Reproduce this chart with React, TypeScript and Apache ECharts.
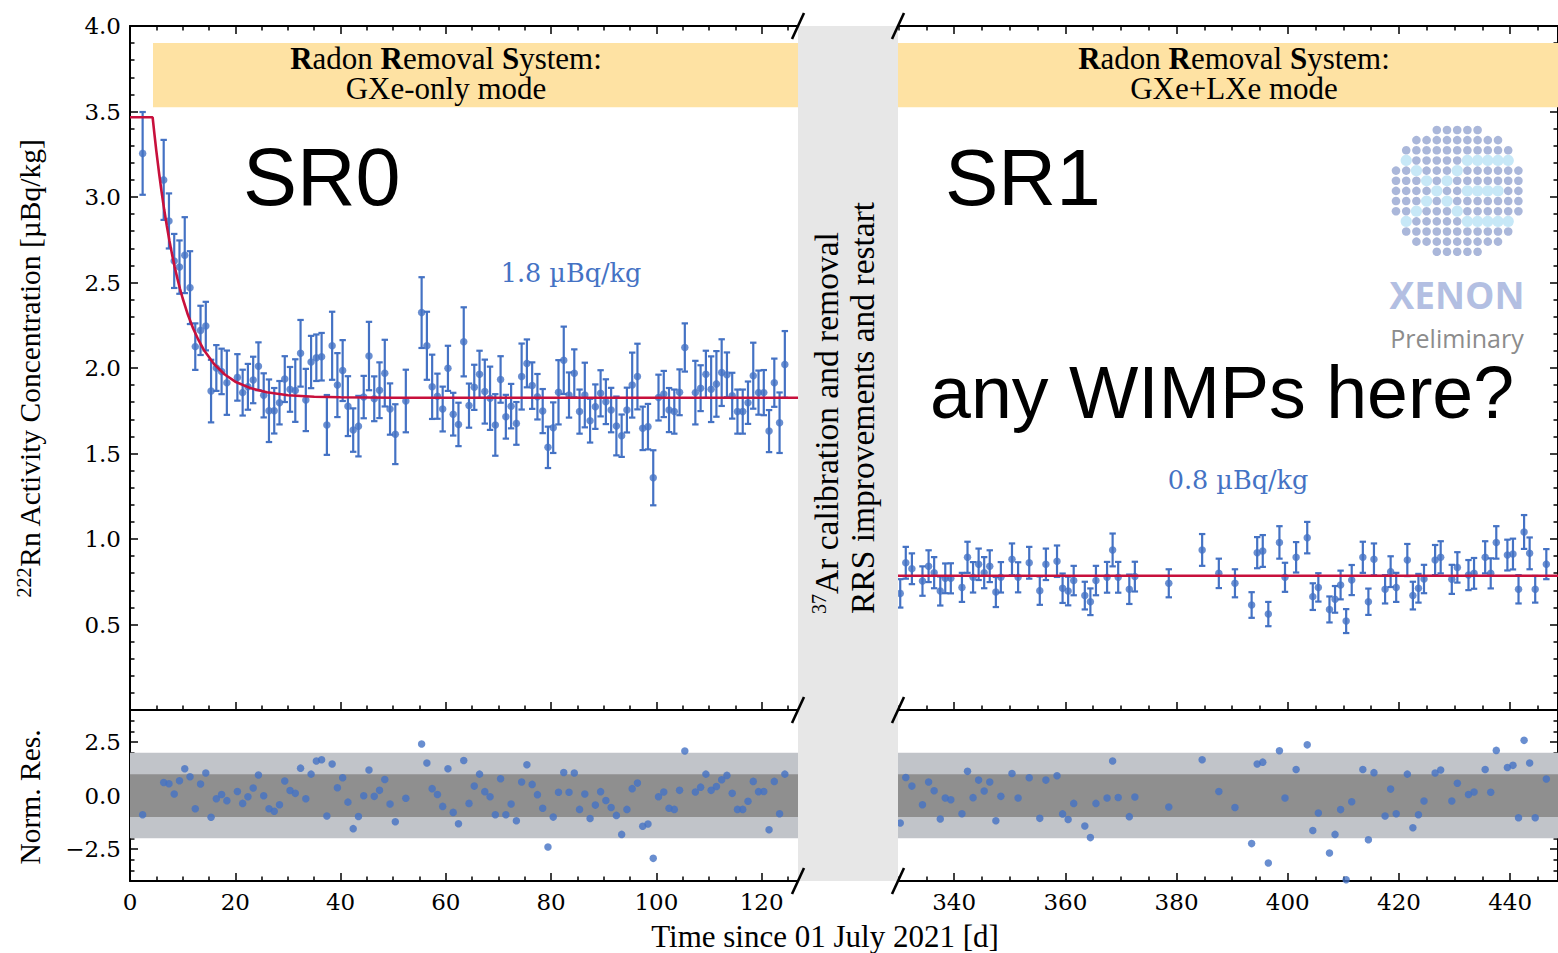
import React, { useEffect, useRef } from 'react';
import * as echarts from 'echarts';

// ---------------- data ----------------
const SR0_T = [2.4, 6.4, 7.4, 8.4, 9.4, 10.4, 11.4, 12.4, 13.4, 14.4, 15.4, 16.4, 17.4, 18.4, 20.4, 21.4, 22.4, 23.4, 24.4, 25.4, 26.4, 27.4, 28.4, 29.4, 30.4, 31.4, 32.4, 33.4, 34.4, 35.4, 36.4, 37.4, 38.4, 39.4, 40.4, 41.4, 42.4, 43.4, 44.4, 45.4, 46.4, 47.4, 48.4, 49.4, 50.4, 52.4, 55.4, 56.4, 57.4, 58.4, 59.4, 60.4, 61.4, 62.4,
  63.4, 64.4, 65.4, 66.4, 67.4, 68.4, 69.4, 70.4, 71.4, 72.4, 73.4, 74.4, 75.4, 76.4, 77.4, 78.4, 79.4, 80.4, 81.4, 82.4, 83.4, 84.4, 85.4, 86.4, 87.4, 88.4, 89.4, 90.4, 91.4, 92.4, 93.4, 94.4, 95.4, 96.4, 97.4, 98.4, 99.4, 100.4, 101.4, 102.4, 103.4, 104.4, 105.4,
  107.4, 108.4, 109.4, 110.4, 111.4, 112.4, 113.4, 114.4, 115.4, 116.4, 117.4, 118.4, 119.4, 120.4, 121.4, 122.4, 123.4, 124.4];
const SR0_V = [3.255, 3.10, 2.86, 2.626, 2.59, 2.66, 2.47, 2.125, 2.22, 2.245, 1.865, 2.00, 1.98, 1.914, 1.945, 1.856, 1.89, 1.93, 2.01, 1.84, 1.75, 1.75, 1.797, 1.935, 1.875, 1.868, 2.086, 1.813, 2.035, 2.06, 2.066, 1.667, 2.13, 1.90, 1.985, 1.777, 1.637, 1.66, 1.83, 2.07, 1.82, 1.87, 1.97, 1.76, 1.613, 1.807, 2.324, 2.13, 1.89, 1.835, 1.76, 1.998, 1.73, 1.67,
  2.153, 1.78, 1.887, 1.963, 1.862, 1.823, 1.667, 1.933, 1.715, 1.777, 1.676, 1.95, 2.027, 1.897, 1.832, 1.748, 1.536, 1.651, 1.858, 2.045, 1.842, 1.969, 1.745, 1.842, 1.692, 1.774, 1.852, 1.803, 1.754, 1.661, 1.604, 1.754, 1.90, 1.95, 1.647, 1.657, 1.358, 1.827, 1.848, 1.754, 1.745, 1.858, 2.12,
  1.856, 1.882, 1.963, 1.876, 1.907, 1.973, 1.96, 1.838, 1.745, 1.745, 1.797, 1.955, 1.856, 1.856, 1.631, 1.914, 1.68, 2.021];
const SR0_E = [0.242, 0.234, 0.161, 0.158, 0.156, 0.222, 0.213, 0.136, 0.144, 0.142, 0.183, 0.134, 0.133, 0.188, 0.136, 0.134, 0.134, 0.136, 0.140, 0.129, 0.183, 0.133, 0.127, 0.134, 0.131, 0.183, 0.195, 0.182, 0.153, 0.136, 0.139, 0.175, 0.199, 0.187, 0.178, 0.175, 0.127, 0.177, 0.124, 0.200, 0.131, 0.163, 0.195, 0.150, 0.175, 0.183, 0.207, 0.199, 0.188, 0.132, 0.131, 0.132, 0.125, 0.127,
  0.202, 0.129, 0.132, 0.138, 0.187, 0.185, 0.180, 0.136, 0.128, 0.130, 0.125, 0.193, 0.140, 0.136, 0.133, 0.129, 0.121, 0.148, 0.188, 0.197, 0.132, 0.140, 0.129, 0.189, 0.128, 0.130, 0.135, 0.131, 0.130, 0.172, 0.124, 0.131, 0.190, 0.192, 0.127, 0.133, 0.161, 0.134, 0.135, 0.129, 0.129, 0.134, 0.141,
  0.186, 0.134, 0.138, 0.192, 0.192, 0.195, 0.131, 0.134, 0.129, 0.129, 0.124, 0.193, 0.129, 0.132, 0.123, 0.141, 0.177, 0.195];
const SR0_RES = [-0.90, 0.61, 0.55, 0.07, 0.69, 1.25, 0.88, -0.62, 0.54, 1.05, -1.02, -0.15, 0.05, -0.24, 0.19, -0.37, -0.06, 0.35, 0.96, -0.01, -0.62, -0.74, -0.43, 0.68, 0.23, 0.10, 1.28, -0.15, 1.00, 1.61, 1.67, -0.96, 1.47, 0.36, 0.83, -0.31, -1.55, -0.98, -0.01, 1.19, -0.04, 0.24, 0.75, -0.40, -1.23, -0.13, 2.41, 1.52, 0.32, 0.05, -0.51, 1.25, -0.79, -1.32,
  1.64, -0.37, 0.44, 1.00, 0.18, -0.06, -0.90, 0.78, -0.90, -0.40, -1.18, 0.63, 1.44, 0.52, 0.04, -0.60, -2.41, -1.01, 0.15, 1.08, 0.15, 1.05, -0.65, 0.07, -1.08, -0.45, 0.18, -0.23, -0.56, -0.93, -1.82, -0.65, 0.32, 0.58, -1.44, -1.33, -2.94, -0.06, 0.16, -0.60, -0.65, 0.24, 2.08,
  0.16, 0.39, 1.00, 0.24, 0.42, 0.74, 0.94, 0.10, -0.65, -0.65, -0.27, 0.66, 0.18, 0.19, -1.60, 0.66, -0.85, 1.00];
const SR0_FIT_T = [0, 4.3, 4.6, 5, 5.5, 6, 6.5, 7, 7.5, 8, 8.5, 9, 9.5, 10, 11, 12, 13, 14, 16, 18, 20, 23, 26, 30, 35, 40, 50, 126.9];
const SR0_FIT_V = [3.466, 3.466, 3.379, 3.27, 3.145, 3.03, 2.925, 2.83, 2.743, 2.663, 2.59, 2.524, 2.463, 2.408, 2.311, 2.231, 2.164, 2.107, 2.022, 1.962, 1.920, 1.881, 1.858, 1.841, 1.832, 1.829, 1.826, 1.826];

const SR1_T = [330.3, 331.3, 332.4, 334.3, 335.4, 336.4, 337.5, 338.4, 339.4, 341.4, 342.4, 343.4, 344.4, 345.4, 346.4, 347.5, 348.4, 350.4, 351.5, 353.5, 355.4, 356.5, 358.5, 359.5, 360.5, 361.5, 363.5, 364.5, 365.5, 367.5, 368.5, 369.5, 371.5, 372.5, 378.6, 384.6, 387.6,
  390.5, 393.5, 394.5, 395.5, 396.5, 398.5, 399.5, 401.5, 403.5, 404.5, 405.5, 407.5, 408.5, 409.5, 410.5, 411.5, 413.5, 414.5, 415.5, 417.5, 418.5, 419.5, 421.5, 422.5, 423.5, 424.5, 426.5, 427.5, 429.5, 430.5, 432.5, 433.5, 435.5, 436.5, 437.5, 439.5, 440.5, 441.5, 442.5, 443.5, 444.5, 446.5];
const SR1_V = [0.682, 0.861, 0.826, 0.754, 0.841, 0.803, 0.696, 0.770, 0.770, 0.717, 0.893, 0.776, 0.852, 0.803, 0.841, 0.690, 0.776, 0.881, 0.776, 0.861, 0.698, 0.852, 0.870, 0.712, 0.696, 0.757, 0.669, 0.633, 0.757, 0.776, 0.936, 0.776, 0.706, 0.780, 0.741, 0.936, 0.799,
  0.741, 0.614, 0.920, 0.930, 0.561, 0.980, 0.776, 0.893, 1.008, 0.663, 0.717, 0.588, 0.647, 0.731, 0.520, 0.760, 0.893, 0.633, 0.881, 0.706, 0.809, 0.717, 0.877, 0.669, 0.712, 0.766, 0.877, 0.893, 0.764, 0.834, 0.789, 0.799, 0.893, 0.799, 0.980, 0.906, 0.912, 0.706, 1.041, 0.916, 0.706, 0.853];
const SR1_E = [0.083, 0.093, 0.090, 0.086, 0.093, 0.091, 0.085, 0.087, 0.088, 0.085, 0.091, 0.089, 0.092, 0.091, 0.093, 0.088, 0.089, 0.093, 0.088, 0.093, 0.083, 0.092, 0.092, 0.086, 0.084, 0.086, 0.081, 0.078, 0.086, 0.090, 0.096, 0.090, 0.086, 0.087, 0.082, 0.093, 0.086,
  0.082, 0.075, 0.091, 0.093, 0.071, 0.095, 0.085, 0.089, 0.092, 0.078, 0.083, 0.076, 0.078, 0.084, 0.070, 0.088, 0.091, 0.077, 0.093, 0.083, 0.090, 0.085, 0.094, 0.081, 0.084, 0.083, 0.088, 0.094, 0.085, 0.089, 0.088, 0.090, 0.094, 0.088, 0.095, 0.090, 0.090, 0.083, 0.099, 0.093, 0.078, 0.088];
const SR1_RES = [-1.29, 0.84, 0.44, -0.43, 0.63, 0.22, -1.10, -0.12, -0.20, -0.85, 1.13, -0.10, 0.72, 0.21, 0.63, -1.18, -0.04, 1.03, -0.12, 0.83, -1.07, 0.72, 0.92, -0.86, -1.12, -0.37, -1.43, -1.97, -0.37, -0.12, 1.61, -0.09, -0.99, -0.07, -0.54, 1.67, 0.19,
  -0.56, -2.25, 1.47, 1.56, -3.16, 2.09, -0.12, 1.22, 2.37, -1.64, -0.82, -2.69, -1.82, -0.66, -3.94, -0.29, 1.22, -2.07, 1.07, -0.96, 0.30, -0.85, 1.00, -1.51, -0.90, -0.26, 1.05, 1.19, -0.26, 0.57, 0.05, 0.16, 1.22, 0.15, 2.11, 1.31, 1.41, -1.04, 2.58, 1.52, -1.04, 0.77];
const SR1_FIT_T = [329.9, 448.6];
const SR1_FIT_V = [0.785, 0.785];

// axis ranges & ticks
const LEFT_MIN = 0, LEFT_MAX = 126.9;
const RIGHT_MIN = 329.9, RIGHT_MAX = 448.6;
const LEFT_X_MAJOR = [0, 20, 40, 60, 80, 100, 120];
const RIGHT_X_MAJOR = [340, 360, 380, 400, 420, 440];
const TOP_Y_MAJOR = [0, 0.5, 1.0, 1.5, 2.0, 2.5, 3.0, 3.5, 4.0];
const TOP_Y_LABELS = [0.5, 1.0, 1.5, 2.0, 2.5, 3.0, 3.5, 4.0];
const RES_Y_MAJOR = [-2.5, 0, 2.5];

// annotation bands
const BAND_Y = [3.525, 3.9];
const BAND_LEFT_X0 = 4.37;
const RES_INNER = 1, RES_OUTER = 2;

const BLUE = '#4472c4';
const FIT_RED = '#c8103c';
const ORANGE = '#fee2a3';
const RES_DARK = '#8f8f8f';
const RES_LIGHT = '#c1c4c9';
const SERIF = 'Liberation Serif';
const TICK_FONT = 'DejaVu Serif';

function minorTicks(from: number, to: number, step: number, majors: number[]) {
  const out: number[] = [];
  const n = Math.round((to - from) / step);
  for (let i = 0; i <= n; i++) {
    const v = +(from + i * step).toFixed(4);
    if (!majors.some((m) => Math.abs(m - v) < 1e-6)) out.push(v);
  }
  return out;
}

function axis(gridIndex: number, position: string, min: number, max: number, ticks: number[], len: number,
  line: boolean, labels: number[] | null, fmt?: (v: number) => string) {
  return {
    type: 'value', gridIndex, position, min, max,
    axisLine: { show: line, onZero: false, lineStyle: { color: '#000', width: 2 } },
    axisTick: { show: true, inside: true, length: len, customValues: ticks, lineStyle: { color: '#000', width: 1.5 } },
    axisLabel: labels
      ? { show: true, customValues: labels, formatter: fmt, color: '#000', fontFamily: TICK_FONT, fontSize: 23, margin: 9 }
      : { show: false },
    splitLine: { show: false },
  };
}

const fmtInt = (v: number) => String(Math.round(v));
const fmt1 = (v: number) => v.toFixed(1);
const fmtRes = (v: number) => (v < 0 ? '\u2212' + Math.abs(v).toFixed(1) : v.toFixed(1));

const errorBarItem = (_params: any, api: any) => {
  const x = api.value(0), y = api.value(1), e = api.value(2);
  const hi = api.coord([x, y + e]);
  const lo = api.coord([x, y - e]);
  const cap = 3.2;
  const style = { stroke: BLUE, lineWidth: 2.2 };
  return {
    type: 'group',
    children: [
      { type: 'line', shape: { x1: hi[0], y1: hi[1], x2: lo[0], y2: lo[1] }, style },
      { type: 'line', shape: { x1: hi[0] - cap, y1: hi[1], x2: hi[0] + cap, y2: hi[1] }, style },
      { type: 'line', shape: { x1: lo[0] - cap, y1: lo[1], x2: lo[0] + cap, y2: lo[1] }, style },
    ],
  };
};

const LOGO_ROWS = [
  '....ddddd....',
  '..ddddddddd..',
  '.ddddddddddd.',
  '.LdddddLLLLL.',
  'ddLdddLdddddd',
  'dddLdLddddddd',
  'ddddLddLLLLdd',
  'dddLdLddddddd',
  'ddLdddLdddddd',
  '.LdddddLLLLL.',
  '.ddddddddddd.',
  '..ddddddddd..',
  '....ddddd....',
];

export default function App() {
  const ref = useRef<HTMLDivElement>(null);
  useEffect(() => {
    if (!ref.current) return;
    const chart = echarts.init(ref.current, undefined, { renderer: 'svg' });

    const xMinorL = minorTicks(0, 125, 5, LEFT_X_MAJOR);
    const xMinorR = minorTicks(330, 445, 5, RIGHT_X_MAJOR);
    const yMinorTop = minorTicks(0, 4, 0.1, TOP_Y_MAJOR);
    const yMinorRes = minorTicks(-4, 4, 0.5, RES_Y_MAJOR);

    const xAxes = [
      axis(0, 'bottom', LEFT_MIN, LEFT_MAX, LEFT_X_MAJOR, 8, true, null), // 0
      axis(0, 'bottom', LEFT_MIN, LEFT_MAX, xMinorL, 4.5, false, null), // 1
      axis(0, 'top', LEFT_MIN, LEFT_MAX, LEFT_X_MAJOR, 8, true, null), // 2
      axis(0, 'top', LEFT_MIN, LEFT_MAX, xMinorL, 4.5, false, null), // 3
      axis(1, 'bottom', LEFT_MIN, LEFT_MAX, LEFT_X_MAJOR, 8, true, LEFT_X_MAJOR, fmtInt), // 4
      axis(1, 'bottom', LEFT_MIN, LEFT_MAX, xMinorL, 4.5, false, null), // 5
      axis(2, 'bottom', RIGHT_MIN, RIGHT_MAX, RIGHT_X_MAJOR, 8, true, null), // 6
      axis(2, 'bottom', RIGHT_MIN, RIGHT_MAX, xMinorR, 4.5, false, null), // 7
      axis(2, 'top', RIGHT_MIN, RIGHT_MAX, RIGHT_X_MAJOR, 8, true, null), // 8
      axis(2, 'top', RIGHT_MIN, RIGHT_MAX, xMinorR, 4.5, false, null), // 9
      axis(3, 'bottom', RIGHT_MIN, RIGHT_MAX, RIGHT_X_MAJOR, 8, true, RIGHT_X_MAJOR, fmtInt), // 10
      axis(3, 'bottom', RIGHT_MIN, RIGHT_MAX, xMinorR, 4.5, false, null), // 11
    ];
    const yAxes = [
      axis(0, 'left', 0, 4, TOP_Y_MAJOR, 8, true, TOP_Y_LABELS, fmt1), // 0
      axis(0, 'left', 0, 4, yMinorTop, 4.5, false, null), // 1
      axis(1, 'left', -4, 4, RES_Y_MAJOR, 8, true, RES_Y_MAJOR, fmtRes), // 2
      axis(1, 'left', -4, 4, yMinorRes, 4.5, false, null), // 3
      axis(2, 'right', 0, 4, TOP_Y_MAJOR, 8, true, null), // 4
      axis(2, 'right', 0, 4, yMinorTop, 4.5, false, null), // 5
      axis(3, 'right', -4, 4, RES_Y_MAJOR, 8, true, null), // 6
      axis(3, 'right', -4, 4, yMinorRes, 4.5, false, null), // 7
    ];

    const pts = (t: number[], v: number[]) => t.map((x, i) => [x, v[i]]);
    const pts3 = (t: number[], v: number[], e: number[]) => t.map((x, i) => [x, v[i], e[i]]);

    const dataBlock = (xi: number, yi: number, t: number[], v: number[], e: number[], fitT: number[], fitV: number[], bandX0: number, bandX1: number) => [
      {
        type: 'line', xAxisIndex: xi, yAxisIndex: yi, data: pts(fitT, fitV), showSymbol: false, symbol: 'none',
        lineStyle: { color: FIT_RED, width: 2.6 }, z: 4, silent: true,
        markArea: {
          silent: true, label: { show: false }, itemStyle: { color: ORANGE },
          data: [[{ xAxis: bandX0, yAxis: BAND_Y[0] }, { xAxis: bandX1, yAxis: BAND_Y[1] }]],
        },
      },
      {
        type: 'custom', xAxisIndex: xi, yAxisIndex: yi, data: pts3(t, v, e), renderItem: errorBarItem,
        encode: { x: 0, y: 1 }, clip: true, z: 2, silent: true,
      },
      {
        type: 'scatter', xAxisIndex: xi, yAxisIndex: yi, data: pts(t, v), symbolSize: 7.5,
        itemStyle: { color: BLUE }, z: 3, silent: true,
      },
    ];

    const resBlock = (xi: number, yi: number, t: number[], r: number[], x0: number, x1: number) => [
      {
        type: 'scatter', xAxisIndex: xi, yAxisIndex: yi, data: pts(t, r), symbolSize: 7.5,
        itemStyle: { color: BLUE }, z: 3, silent: true, clip: true,
        markArea: {
          silent: true, label: { show: false },
          data: [
            [{ xAxis: x0, yAxis: -RES_OUTER, itemStyle: { color: RES_LIGHT } }, { xAxis: x1, yAxis: RES_OUTER }],
            [{ xAxis: x0, yAxis: -RES_INNER, itemStyle: { color: RES_DARK } }, { xAxis: x1, yAxis: RES_INNER }],
          ],
        },
      },
    ];

    const series = [
      ...dataBlock(0, 0, SR0_T, SR0_V, SR0_E, SR0_FIT_T, SR0_FIT_V, BAND_LEFT_X0, LEFT_MAX),
      ...resBlock(4, 2, SR0_T, SR0_RES, LEFT_MIN, LEFT_MAX),
      ...dataBlock(6, 4, SR1_T, SR1_V, SR1_E, SR1_FIT_T, SR1_FIT_V, RIGHT_MIN, RIGHT_MAX),
      ...resBlock(10, 6, SR1_T, SR1_RES, RIGHT_MIN, RIGHT_MAX),
    ];

    const txt = (x: number, y: number, text: string, o: any = {}, extra: any = {}) => ({
      type: 'text', x, y, z: 60, silent: true, ...extra,
      style: {
        text, fill: '#000', fontFamily: SERIF, fontSize: 32,
        align: 'center', verticalAlign: 'middle', textAlign: 'center', textVerticalAlign: 'middle', ...o,
      },
    });

    const breakMark = (x: number, y: number) => ({
      type: 'line', z: 70, silent: true,
      shape: { x1: x - 6, y1: y + 13, x2: x + 6, y2: y - 13 },
      style: { stroke: '#000', lineWidth: 2.6 },
    });

    const logo: any[] = [];
    LOGO_ROWS.forEach((row, r) => {
      row.split('').forEach((c, k) => {
        if (c === '.') return;
        logo.push({
          type: 'circle', z: 55, silent: true,
          shape: { cx: 1396 + k * 10.2, cy: 130 + r * 10.15, r: c === 'L' ? 5.6 : 4.3 },
          style: { fill: c === 'L' ? '#c7e8f7' : '#aab7da' },
        });
      });
    });

    const supRich = { s: { fontSize: 20, fontFamily: SERIF, fill: '#000', verticalAlign: 'top' } };
    const boldRich = { b: { fontWeight: 'bold', fontSize: 31, lineHeight: 28, fontFamily: SERIF, fill: '#000' } };

    const graphic = [
      { type: 'rect', z: 50, silent: true, shape: { x: 798, y: 26, width: 100, height: 855 }, style: { fill: '#e7e7e7' } },
      breakMark(798, 26), breakMark(898, 26), breakMark(798, 710), breakMark(898, 710), breakMark(798, 881), breakMark(898, 881),
      txt(446, 58.5, '{b|R}adon {b|R}emoval {b|S}ystem:', { fontSize: 31, lineHeight: 28, rich: boldRich }),
      txt(446, 88.5, 'GXe-only mode', { fontSize: 31, lineHeight: 28 }),
      txt(1234, 58.5, '{b|R}adon {b|R}emoval {b|S}ystem:', { fontSize: 31, lineHeight: 28, rich: boldRich }),
      txt(1234, 88.5, 'GXe+LXe mode', { fontSize: 31, lineHeight: 28 }),
      txt(243, 177, 'SR0', { fontFamily: 'Liberation Sans', fontSize: 81, align: 'left', textAlign: 'left' }),
      txt(945, 177, 'SR1', { fontFamily: 'Liberation Sans', fontSize: 80, align: 'left', textAlign: 'left' }),
      txt(930, 392, 'any WIMPs here?', { fontFamily: 'Liberation Sans', fontSize: 73.5, lineHeight: 68, align: 'left', textAlign: 'left' }),
      txt(571, 273, '1.8 \u00b5Bq/kg', { fontFamily: TICK_FONT, fontSize: 25.5, fill: BLUE }),
      txt(1238, 480, '0.8 \u00b5Bq/kg', { fontFamily: TICK_FONT, fontSize: 25.5, fill: BLUE }),
      txt(826, 614, '{s|37}Ar calibration and removal', { fontSize: 33.5, lineHeight: 35, align: 'left', textAlign: 'left', rich: supRich }, { rotation: Math.PI / 2 }),
      txt(862, 614, 'RRS improvements and restart', { fontSize: 33.5, align: 'left', textAlign: 'left' }, { rotation: Math.PI / 2 }),
      txt(825, 936, 'Time since 01 July 2021 [d]', { fontSize: 31 }),
      txt(30, 368, '{s|222}Rn Activity Concentration [\u00b5Bq/kg]', { fontSize: 29.5, lineHeight: 32, rich: supRich }, { rotation: Math.PI / 2 }),
      txt(30, 797, 'Norm. Res.', { fontSize: 29.5 }, { rotation: Math.PI / 2 }),
      ...logo,
      txt(1457, 294, 'XENON', { fontFamily: 'Open Sans', fontWeight: 'bold', fontSize: 37, lineHeight: 36, fill: '#b3bfe2' }),
      txt(1457, 338, 'Preliminary', { fontFamily: 'Open Sans', fontSize: 25, lineHeight: 24, fill: '#8c8c8c' }),
    ];

    chart.setOption({
      animation: false,
      backgroundColor: '#ffffff',
      grid: [
        { left: 130, top: 26, width: 668, height: 684 },
        { left: 130, top: 710, width: 668, height: 171 },
        { left: 898, top: 26, width: 661, height: 684 },
        { left: 898, top: 710, width: 661, height: 171 },
      ],
      xAxis: xAxes,
      yAxis: yAxes,
      series,
      graphic: { elements: graphic },
    });
    return () => chart.dispose();
  }, []);

  return <div ref={ref} style={{ position: 'fixed', left: 0, top: 0, width: 1558, height: 953, background: '#fff' }} />;
}
